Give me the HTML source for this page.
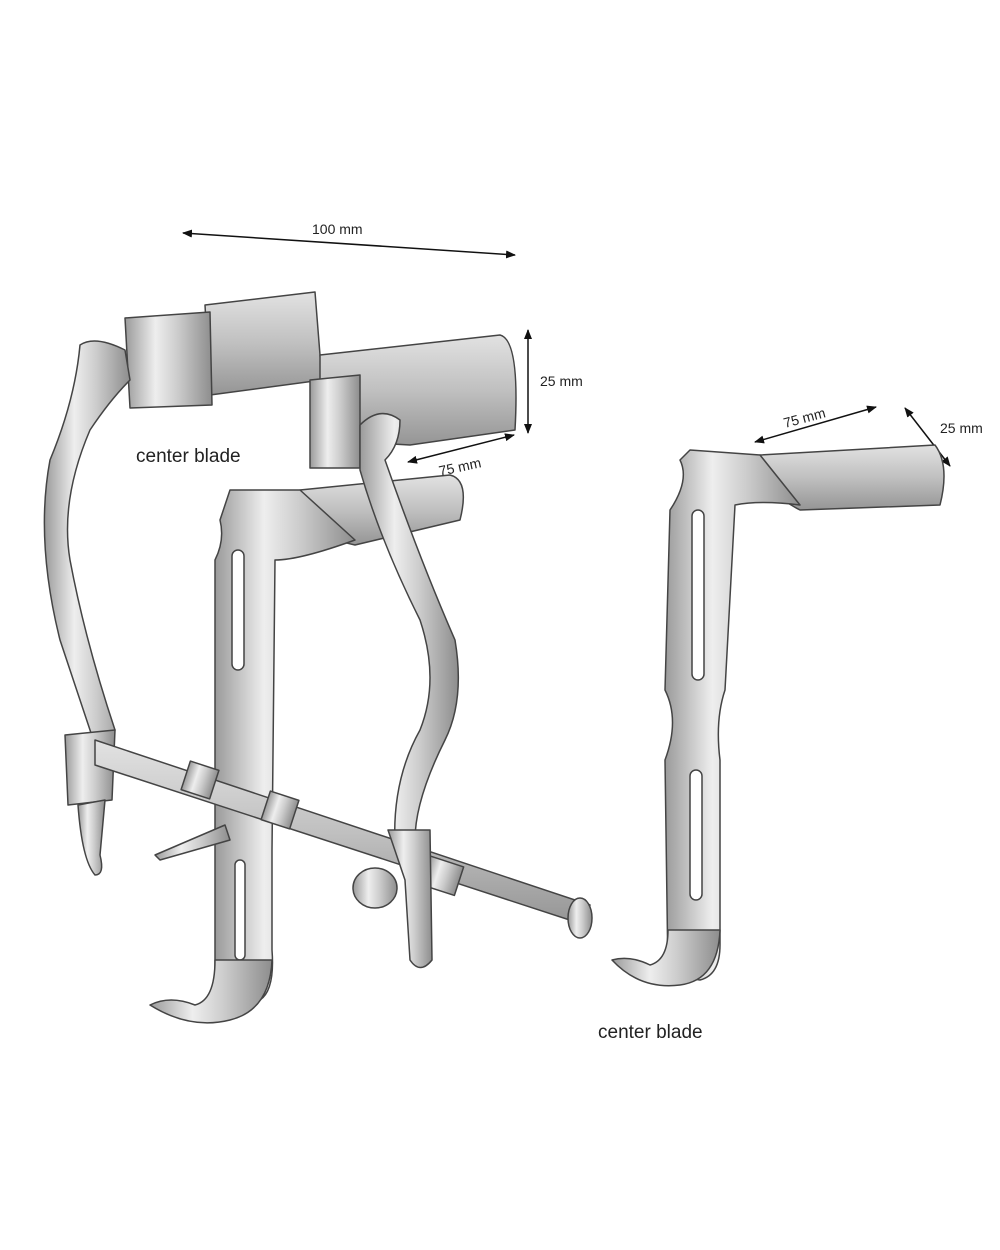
<!DOCTYPE html>
<html><head><meta charset="utf-8"><style>
html,body{margin:0;padding:0;background:#fff;}
svg{display:block}
text{font-family:"Liberation Sans",sans-serif;fill:#222}
</style></head><body>
<svg width="1000" height="1250" viewBox="0 0 1000 1250" xmlns="http://www.w3.org/2000/svg">
<defs>
<linearGradient id="m" x1="0" y1="0" x2="1" y2="0">
<stop offset="0" stop-color="#9a9a9a"/><stop offset="0.35" stop-color="#eeeeee"/><stop offset="0.6" stop-color="#cdcdcd"/><stop offset="1" stop-color="#8d8d8d"/></linearGradient>
<linearGradient id="v" x1="0" y1="0" x2="0" y2="1">
<stop offset="0" stop-color="#e2e2e2"/><stop offset="0.5" stop-color="#c0c0c0"/><stop offset="1" stop-color="#959595"/></linearGradient>
<marker id="a" markerWidth="10" markerHeight="8" refX="9" refY="4" orient="auto" markerUnits="userSpaceOnUse"><path d="M0,0 L10,4 L0,8 Z" fill="#111"/></marker>
<marker id="b" markerWidth="10" markerHeight="8" refX="1" refY="4" orient="auto" markerUnits="userSpaceOnUse"><path d="M10,0 L0,4 L10,8 Z" fill="#111"/></marker>
</defs>
<g stroke="#444" stroke-width="1.5" stroke-linejoin="round">
<line x1="183" y1="233" x2="515" y2="255" stroke="#111" marker-start="url(#b)" marker-end="url(#a)"/>
<line x1="528" y1="330" x2="528" y2="433" stroke="#111" marker-start="url(#b)" marker-end="url(#a)"/>
<line x1="408" y1="462" x2="514" y2="435" stroke="#111" marker-start="url(#b)" marker-end="url(#a)"/>
<line x1="755" y1="442" x2="876" y2="407" stroke="#111" marker-start="url(#b)" marker-end="url(#a)"/>
<line x1="905" y1="408" x2="950" y2="466" stroke="#111" marker-start="url(#b)" marker-end="url(#a)"/>
<path d="M205,305 L315,292 L322,380 L210,395 Z" fill="url(#v)"/>
<path d="M125,318 L210,312 L212,405 L130,408 Z" fill="url(#m)"/>
<path d="M320,355 L500,335 Q520,340 515,430 L410,445 L320,440 Z" fill="url(#v)"/>
<path d="M310,380 L360,375 L360,468 L310,468 Z" fill="url(#m)"/>
<path d="M80,345 Q95,335 125,350 L130,380 Q110,400 90,430 Q60,500 70,560 Q85,640 115,730 L100,760 Q80,700 60,640 Q35,540 50,460 Q75,400 80,345 Z" fill="url(#m)"/>
<path d="M65,735 L115,730 L112,800 L68,805 Z" fill="url(#m)"/>
<path d="M78,805 L105,800 L100,855 Q105,875 95,875 Q82,860 78,805 Z" fill="url(#m)"/>
<path d="M300,490 L450,475 Q470,480 460,520 L355,545 Q330,540 300,520 Z" fill="url(#v)"/>
<path d="M230,490 L300,490 L355,540 Q300,560 275,560 L272,850 L272,950 Q275,990 260,1000 Q230,1010 215,1000 L215,560 Q225,540 220,520 Z" fill="url(#m)"/>
<rect x="232" y="550" width="12" height="120" rx="6" fill="#fff"/>
<rect x="235" y="860" width="10" height="100" rx="5" fill="#fff"/>
<path d="M215,960 L272,960 Q270,1010 230,1020 Q190,1030 150,1005 Q170,995 195,1005 Q215,1000 215,960 Z" fill="url(#m)"/>
<path d="M95,740 L590,905 L585,925 L95,765 Z" fill="url(#v)"/>
<rect x="185" y="765" width="30" height="30" fill="url(#m)" transform="rotate(18 200 780)"/>
<rect x="265" y="795" width="30" height="30" fill="url(#m)" transform="rotate(18 280 810)"/>
<rect x="425" y="860" width="35" height="30" fill="url(#m)" transform="rotate(18 440 875)"/>
<ellipse cx="580" cy="918" rx="12" ry="20" fill="url(#m)"/>
<path d="M155,855 L225,825 L230,840 L160,860 Z" fill="url(#m)"/>
<path d="M360,425 Q380,405 400,420 Q400,445 385,460 Q420,560 455,640 Q465,700 445,740 Q415,800 415,840 L395,845 Q392,780 420,730 Q440,680 420,620 Q380,540 360,470 Z" fill="url(#m)"/>
<path d="M388,830 L430,830 L432,960 Q420,975 410,960 L405,880 Z" fill="url(#m)"/>
<ellipse cx="375" cy="888" rx="22" ry="20" fill="url(#m)"/>
<path d="M760,455 L935,445 Q950,465 940,505 L800,510 Q780,500 760,480 Z" fill="url(#v)"/>
<path d="M690,450 L760,455 L800,505 Q760,500 735,505 L725,690 Q715,720 720,760 L720,945 Q720,975 700,980 L668,975 L665,760 Q680,720 665,690 L670,510 Q690,480 680,460 Z" fill="url(#m)"/>
<rect x="692" y="510" width="12" height="170" rx="6" fill="#fff"/>
<rect x="690" y="770" width="12" height="130" rx="6" fill="#fff"/>
<path d="M668,930 L720,930 Q718,980 680,985 Q640,990 612,960 Q630,955 650,965 Q668,960 668,930 Z" fill="url(#m)"/>
</g>
<text x="312" y="234" font-size="14">100 mm</text>
<text x="540" y="386" font-size="14">25 mm</text>
<text x="440" y="476" font-size="14" transform="rotate(-12 440 476)">75 mm</text>
<text x="785" y="428" font-size="14" transform="rotate(-15 785 428)">75 mm</text>
<text x="940" y="433" font-size="14">25 mm</text>
<text x="136" y="462" font-size="19">center blade</text>
<text x="598" y="1038" font-size="19">center blade</text>
</svg>
</body></html>
